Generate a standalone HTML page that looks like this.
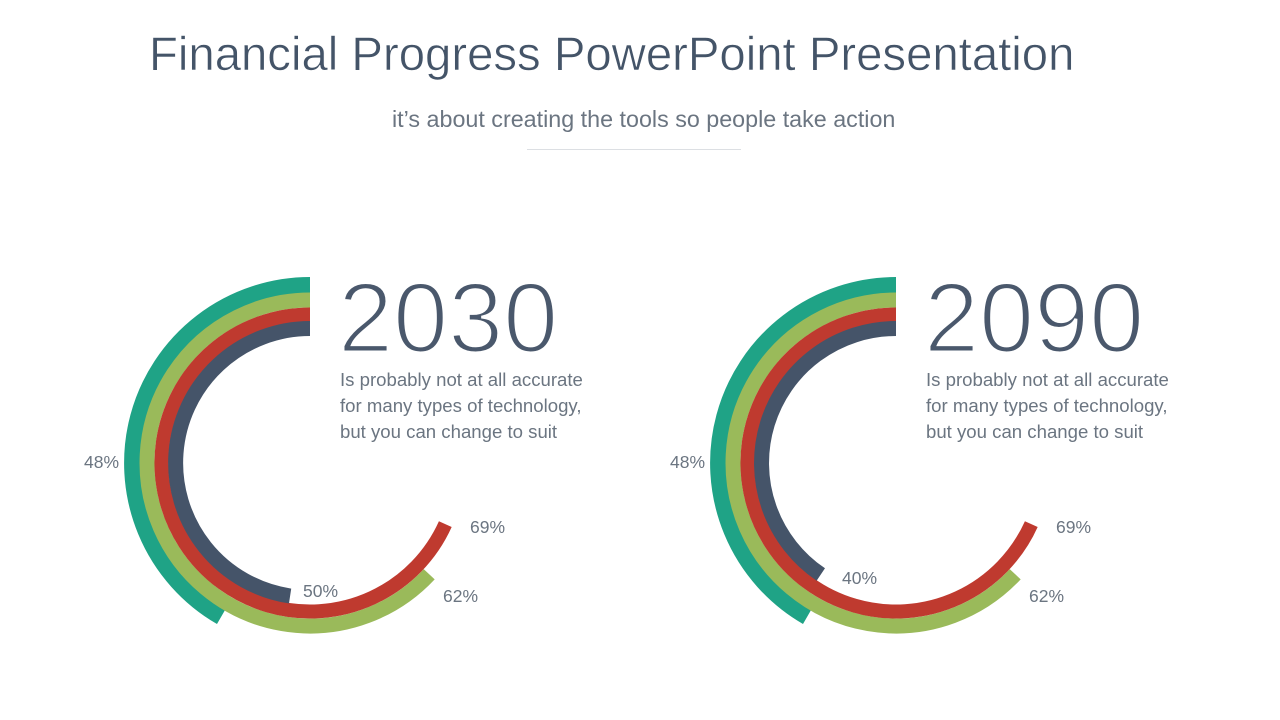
<!DOCTYPE html>
<html><head><meta charset="utf-8"><style>
body{margin:0;width:1280px;height:720px;background:#fff;overflow:hidden;position:relative;font-family:"Liberation Sans",sans-serif}
.t{position:absolute;white-space:nowrap}
.big{font-size:99px;color:#4a586c;-webkit-text-stroke:3px #fff;paint-order:normal}
.lb{font-size:17.5px;color:#6b7581}
</style></head><body>
<div class="t" style="left:149px;top:27px;font-size:47.3px;color:#445468;-webkit-text-stroke:0.6px #fff">Financial Progress PowerPoint Presentation</div>
<div class="t" style="left:392px;top:106px;font-size:23.3px;color:#6b7581">it’s about creating the tools so people take action</div>
<div style="position:absolute;left:527px;top:149px;width:214px;height:1px;background:#dcdfe3"></div>
<svg width="1280" height="720" style="position:absolute;left:0;top:0" fill="none" stroke-linecap="butt">
<g>
<path d="M310 285 A178 178 0 0 0 221 617.1" stroke="#1fa386" stroke-width="16"/>
<path d="M310 300 A163 163 0 1 0 429.2 574.2" stroke="#9aba5a" stroke-width="15"/>
<path d="M310 314.5 A148.5 148.5 0 1 0 445.3 524.1" stroke="#bf3a2f" stroke-width="14"/>
<path d="M310 328.5 A134.5 134.5 0 0 0 290.1 596" stroke="#455469" stroke-width="15"/>
</g>
<g transform="translate(586,0)">
<path d="M310 285 A178 178 0 0 0 221 617.1" stroke="#1fa386" stroke-width="16"/>
<path d="M310 300 A163 163 0 1 0 429.2 574.2" stroke="#9aba5a" stroke-width="15"/>
<path d="M310 314.5 A148.5 148.5 0 1 0 445.3 524.1" stroke="#bf3a2f" stroke-width="14"/>
<path d="M310 328.5 A134.5 134.5 0 0 0 234.8 574.5" stroke="#455469" stroke-width="15"/>
</g>
</svg>
<div class="t big" style="left:338px;top:261px">2030</div>
<div class="t" style="left:340px;top:367px;font-size:18.6px;line-height:26px;color:#6b7581">Is probably not at all accurate<br>for many types of technology,<br>but you can change to suit</div>
<div class="t big" style="left:924px;top:261px">2090</div>
<div class="t" style="left:926px;top:367px;font-size:18.6px;line-height:26px;color:#6b7581">Is probably not at all accurate<br>for many types of technology,<br>but you can change to suit</div>
<div class="t lb" style="left:84px;top:452px">48%</div>
<div class="t lb" style="left:303px;top:581px">50%</div>
<div class="t lb" style="left:470px;top:517px">69%</div>
<div class="t lb" style="left:443px;top:586px">62%</div>
<div class="t lb" style="left:670px;top:452px">48%</div>
<div class="t lb" style="left:842px;top:568px">40%</div>
<div class="t lb" style="left:1056px;top:517px">69%</div>
<div class="t lb" style="left:1029px;top:586px">62%</div>
</body></html>
